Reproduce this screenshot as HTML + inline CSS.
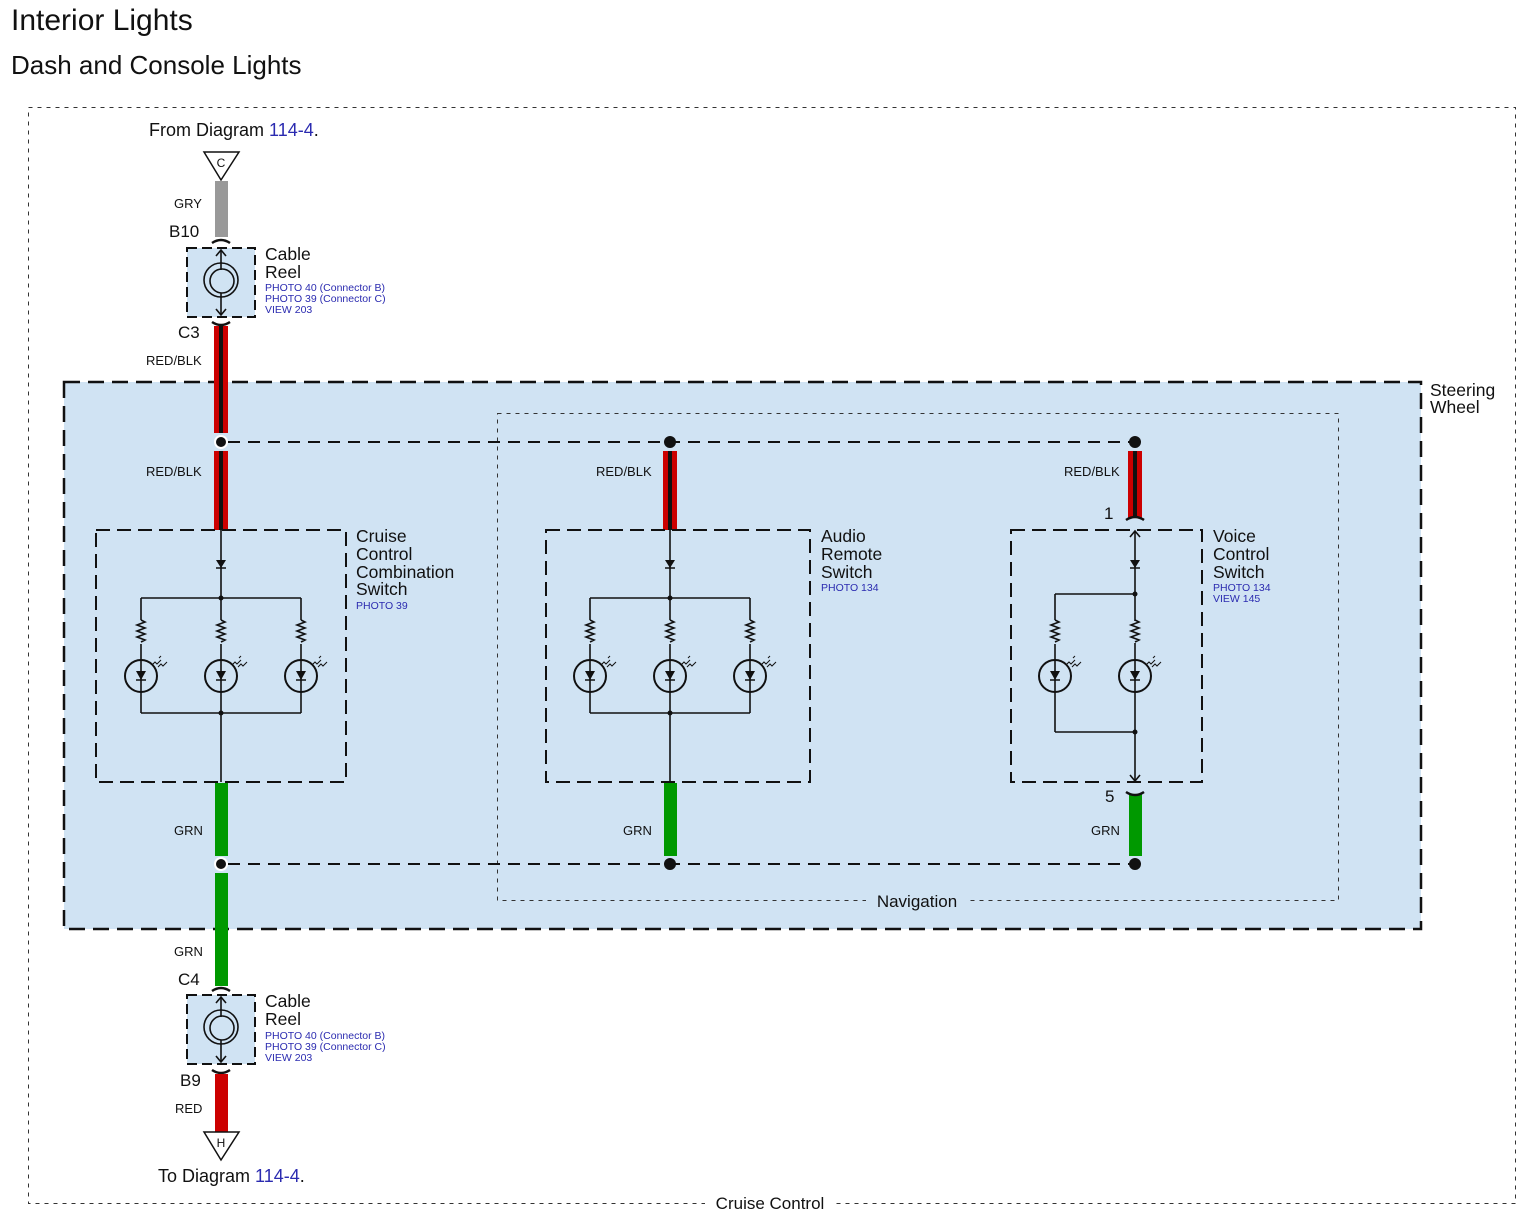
<!DOCTYPE html>
<html><head><meta charset="utf-8"><style>
html,body{margin:0;padding:0;background:#fff;}
svg{display:block;font-family:"Liberation Sans",Arial,sans-serif;}
.bl{fill:#2b2bb0;font-size:10.5px;}
.wl{font-size:13px;fill:#111;}
.nm{font-size:17.5px;fill:#111;}
</style></head><body>
<svg width="1526" height="1222" viewBox="0 0 1526 1222" xmlns="http://www.w3.org/2000/svg">
<defs>
<g id="led">
  <circle cx="0" cy="0" r="16" fill="none" stroke="#111" stroke-width="2"/>
  <polygon points="-5,-5 5,-5 0,4" fill="#111"/>
  <line x1="-5" y1="4" x2="5" y2="4" stroke="#111" stroke-width="1.5"/>
  <path d="M11,-11 l3,-3 l2,2 l4,-4 M18,-18 l2,-2 M17,-9 l3,-3 l2,2 l4,-4" stroke="#111" stroke-width="1" fill="none"/>
</g>
<path id="res" d="M0,0 l4,2 l-8,3 l8,3 l-8,3 l8,3 l-8,3 l8,3 l-4,2" fill="none" stroke="#111" stroke-width="1.6"/>
<g id="branch">
  <line x1="0" y1="0" x2="0" y2="22" stroke="#111" stroke-width="1.6"/>
  <use href="#res" x="0" y="22"/>
  <line x1="0" y1="46" x2="0" y2="115" stroke="#111" stroke-width="1.6"/>
  <use href="#led" x="0" y="78"/>
</g>
<g id="diode">
  <polygon points="-5,-4 5,-4 0,4" fill="#111"/>
  <line x1="-5" y1="4" x2="5" y2="4" stroke="#111" stroke-width="1.5"/>
</g>
</defs>

<text x="11" y="30" font-size="30" fill="#111">Interior Lights</text>
<text x="11" y="74" font-size="26" fill="#111">Dash and Console Lights</text>

<rect x="28.5" y="107.5" width="1487" height="1096" fill="none" stroke="#333" stroke-width="1" stroke-dasharray="4,5"/>
<rect x="705" y="1194" width="130" height="18" fill="#fff"/>
<text x="770" y="1209" text-anchor="middle" font-size="17" fill="#111">Cruise Control</text>

<rect x="64" y="382" width="1357" height="547" fill="#d0e3f3" stroke="#111" stroke-width="2.5" stroke-dasharray="16,8"/>
<text x="1430" y="396" class="nm">Steering</text>
<text x="1430" y="413" class="nm">Wheel</text>

<rect x="497.5" y="413.5" width="841" height="487" fill="none" stroke="#333" stroke-width="1" stroke-dasharray="4,5"/>
<rect x="866" y="891" width="102" height="18" fill="#d0e3f3"/>
<text x="917" y="907" text-anchor="middle" font-size="17" fill="#111">Navigation</text>

<text x="149" y="136" font-size="18" fill="#111">From Diagram <tspan fill="#2b2bb0">114-4</tspan>.</text>
<polygon points="204,152 239,152 221,180" fill="#fff" stroke="#111" stroke-width="1.5"/>
<text x="221" y="167" text-anchor="middle" font-size="12" fill="#111">C</text>
<rect x="215" y="181" width="13" height="56" fill="#999"/>
<text x="174" y="208" class="wl">GRY</text>
<text x="169" y="237" font-size="17" fill="#111">B10</text>
<path d="M212,243 q9,-6 18,0" fill="none" stroke="#111" stroke-width="2.5"/>
<rect x="187" y="248" width="68" height="69" fill="#d0e3f3" stroke="#111" stroke-width="2" stroke-dasharray="10,5"/>
<circle cx="221" cy="280" r="17" fill="none" stroke="#111" stroke-width="1.6"/>
<circle cx="222" cy="281" r="12" fill="none" stroke="#111" stroke-width="1.6"/>
<line x1="221" y1="250" x2="221" y2="270" stroke="#111" stroke-width="1.6"/>
<line x1="221" y1="293" x2="221" y2="315" stroke="#111" stroke-width="1.6"/>
<path d="M216,256 l5,-6 l5,6 M216,309 l5,6 l5,-6" fill="none" stroke="#111" stroke-width="1.6"/>
<text x="265" y="260" class="nm">Cable</text>
<text x="265" y="278" class="nm">Reel</text>
<text x="265" y="291" class="bl">PHOTO 40 (Connector B)</text>
<text x="265" y="302" class="bl">PHOTO 39 (Connector C)</text>
<text x="265" y="313" class="bl">VIEW 203</text>
<path d="M212,322 q9,6 18,0" fill="none" stroke="#111" stroke-width="2.5"/>
<text x="178" y="338" font-size="17" fill="#111">C3</text>
<text x="146" y="365" class="wl">RED/BLK</text>

<g>
<rect x="214" y="326" width="14" height="107" fill="#c00"/><rect x="219" y="326" width="4" height="107" fill="#111"/>
<rect x="214" y="451" width="14" height="79" fill="#c00"/><rect x="219" y="451" width="4" height="79" fill="#111"/>
<rect x="663" y="451" width="14" height="79" fill="#c00"/><rect x="668" y="451" width="4" height="79" fill="#111"/>
<rect x="1128" y="451" width="14" height="67" fill="#c00"/><rect x="1133" y="451" width="4" height="67" fill="#111"/>
</g>
<text x="146" y="476" class="wl">RED/BLK</text>
<text x="596" y="476" class="wl">RED/BLK</text>
<text x="1064" y="476" class="wl">RED/BLK</text>

<line x1="228" y1="442" x2="1130" y2="442" stroke="#111" stroke-width="2" stroke-dasharray="12,8"/>
<line x1="228" y1="864" x2="1130" y2="864" stroke="#111" stroke-width="2" stroke-dasharray="12,8"/>
<circle cx="221" cy="442" r="6" fill="#111" stroke="#fff" stroke-width="2"/>
<circle cx="670" cy="442" r="6" fill="#111"/>
<circle cx="1135" cy="442" r="6" fill="#111"/>

<rect x="215" y="783" width="13" height="73" fill="#090"/>
<rect x="215" y="873" width="13" height="113" fill="#090"/>
<rect x="664" y="783" width="13" height="73" fill="#090"/>
<rect x="1129" y="794" width="13" height="62" fill="#090"/>
<circle cx="221" cy="864" r="6" fill="#111" stroke="#fff" stroke-width="2"/>
<circle cx="670" cy="864" r="6" fill="#111"/>
<circle cx="1135" cy="864" r="6" fill="#111"/>
<text x="174" y="835" class="wl">GRN</text>
<text x="623" y="835" class="wl">GRN</text>
<text x="1091" y="835" class="wl">GRN</text>
<text x="174" y="956" class="wl">GRN</text>

<rect x="96" y="530" width="250" height="252" fill="none" stroke="#111" stroke-width="2" stroke-dasharray="14,7"/>
<text x="356" y="542" class="nm">Cruise</text>
<text x="356" y="560" class="nm">Control</text>
<text x="356" y="578" class="nm">Combination</text>
<text x="356" y="595" class="nm">Switch</text>
<text x="356" y="609" class="bl">PHOTO 39</text>
<line x1="221" y1="530" x2="221" y2="598" stroke="#111" stroke-width="1.6"/>
<use href="#diode" x="221" y="564"/>
<path d="M141,598 H301 M141,713 H301 M221,713 V782" fill="none" stroke="#111" stroke-width="1.6"/>
<use href="#branch" x="141" y="598"/><use href="#branch" x="221" y="598"/><use href="#branch" x="301" y="598"/>
<circle cx="221" cy="598" r="2.5" fill="#111"/><circle cx="221" cy="713" r="2.5" fill="#111"/>

<rect x="546" y="530" width="264" height="252" fill="none" stroke="#111" stroke-width="2" stroke-dasharray="14,7"/>
<text x="821" y="542" class="nm">Audio</text>
<text x="821" y="560" class="nm">Remote</text>
<text x="821" y="578" class="nm">Switch</text>
<text x="821" y="591" class="bl">PHOTO 134</text>
<line x1="670" y1="530" x2="670" y2="598" stroke="#111" stroke-width="1.6"/>
<use href="#diode" x="670" y="564"/>
<path d="M590,598 H750 M590,713 H750 M670,713 V782" fill="none" stroke="#111" stroke-width="1.6"/>
<use href="#branch" x="590" y="598"/><use href="#branch" x="670" y="598"/><use href="#branch" x="750" y="598"/>
<circle cx="670" cy="598" r="2.5" fill="#111"/><circle cx="670" cy="713" r="2.5" fill="#111"/>

<rect x="1011" y="530" width="191" height="252" fill="none" stroke="#111" stroke-width="2" stroke-dasharray="14,7"/>
<text x="1213" y="542" class="nm">Voice</text>
<text x="1213" y="560" class="nm">Control</text>
<text x="1213" y="578" class="nm">Switch</text>
<text x="1213" y="591" class="bl">PHOTO 134</text>
<text x="1213" y="602" class="bl">VIEW 145</text>
<text x="1104" y="519" font-size="17" fill="#111">1</text>
<path d="M1126,520 q9,-6 18,0" fill="none" stroke="#111" stroke-width="2.5"/>
<text x="1105" y="802" font-size="17" fill="#111">5</text>
<path d="M1126,792 q9,6 18,0" fill="none" stroke="#111" stroke-width="2.5"/>
<line x1="1135" y1="531" x2="1135" y2="781" stroke="#111" stroke-width="1.6"/>
<path d="M1130,537 l5,-6 l5,6 M1130,775 l5,6 l5,-6" fill="none" stroke="#111" stroke-width="1.6"/>
<use href="#diode" x="1135" y="564"/>
<path d="M1055,594 H1135 M1055,594 V620 M1055,732 H1135 M1055,692 V732" fill="none" stroke="#111" stroke-width="1.6"/>
<use href="#res" x="1055" y="620"/><line x1="1055" y1="644" x2="1055" y2="692" stroke="#111" stroke-width="1.6"/>
<use href="#led" x="1055" y="676"/>
<rect x="1130" y="621" width="10" height="22" fill="#d0e3f3"/><use href="#res" x="1135" y="620"/>
<use href="#led" x="1135" y="676"/>
<circle cx="1135" cy="594" r="2.5" fill="#111"/><circle cx="1135" cy="732" r="2.5" fill="#111"/>

<text x="178" y="985" font-size="17" fill="#111">C4</text>
<path d="M212,991 q9,-6 18,0" fill="none" stroke="#111" stroke-width="2.5"/>
<rect x="187" y="995" width="68" height="69" fill="#d0e3f3" stroke="#111" stroke-width="2" stroke-dasharray="10,5"/>
<circle cx="221" cy="1027" r="17" fill="none" stroke="#111" stroke-width="1.6"/>
<circle cx="222" cy="1028" r="12" fill="none" stroke="#111" stroke-width="1.6"/>
<line x1="221" y1="997" x2="221" y2="1017" stroke="#111" stroke-width="1.6"/>
<line x1="221" y1="1040" x2="221" y2="1062" stroke="#111" stroke-width="1.6"/>
<path d="M216,1003 l5,-6 l5,6 M216,1056 l5,6 l5,-6" fill="none" stroke="#111" stroke-width="1.6"/>
<text x="265" y="1007" class="nm">Cable</text>
<text x="265" y="1025" class="nm">Reel</text>
<text x="265" y="1039" class="bl">PHOTO 40 (Connector B)</text>
<text x="265" y="1050" class="bl">PHOTO 39 (Connector C)</text>
<text x="265" y="1061" class="bl">VIEW 203</text>
<path d="M212,1070 q9,6 18,0" fill="none" stroke="#111" stroke-width="2.5"/>
<text x="180" y="1086" font-size="17" fill="#111">B9</text>
<rect x="215" y="1074" width="13" height="58" fill="#c00"/>
<text x="175" y="1113" class="wl">RED</text>
<polygon points="204,1132 239,1132 221,1160" fill="#fff" stroke="#111" stroke-width="1.5"/>
<text x="221" y="1147" text-anchor="middle" font-size="12" fill="#111">H</text>
<text x="158" y="1182" font-size="18" fill="#111">To Diagram <tspan fill="#2b2bb0">114-4</tspan>.</text>
</svg>
</body></html>
